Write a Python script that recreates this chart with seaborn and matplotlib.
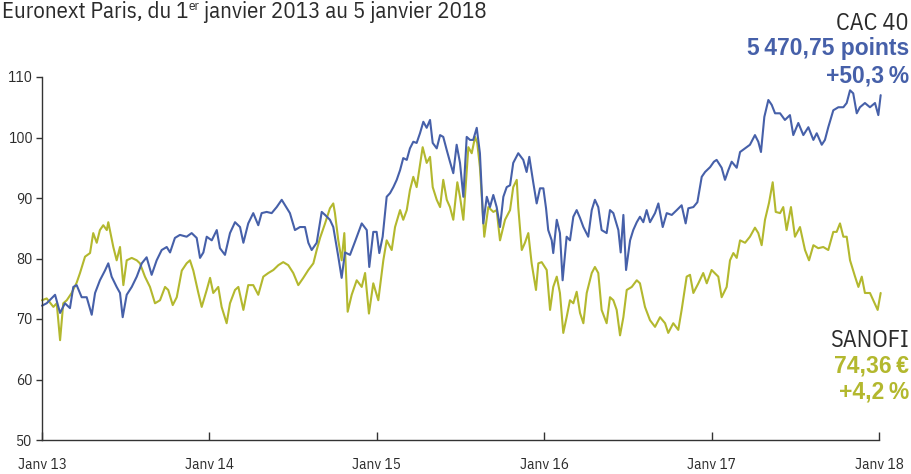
import matplotlib
matplotlib.use("Agg")
import matplotlib.pyplot as plt
import seaborn as sns
import numpy as np
import pandas as pd

# ---------------- data (years since 1 Jan 2013, base-100 style index) ----------------
cac_t = [0.000, 0.028, 0.078, 0.108, 0.137, 0.167, 0.187, 0.207, 0.237, 0.267, 0.297, 0.317,
         0.346, 0.376, 0.396, 0.416, 0.446, 0.466, 0.482, 0.506, 0.536, 0.566, 0.596, 0.625,
         0.655, 0.685, 0.715, 0.745, 0.765, 0.794, 0.824, 0.864, 0.894, 0.924, 0.944, 0.964,
         0.984, 1.014, 1.044, 1.063, 1.093, 1.123, 1.153, 1.183, 1.203, 1.232, 1.262, 1.292,
         1.312, 1.342, 1.372, 1.402, 1.432, 1.452, 1.481, 1.511, 1.541, 1.571, 1.591, 1.611,
         1.641, 1.671, 1.691, 1.720, 1.740, 1.770, 1.790, 1.810, 1.840, 1.870, 1.910, 1.940,
         1.955, 1.979, 1.999, 2.015, 2.035, 2.059, 2.079, 2.099, 2.119, 2.139, 2.158, 2.179,
         2.198, 2.218, 2.238, 2.258, 2.278, 2.298, 2.318, 2.334, 2.358, 2.378, 2.397, 2.418,
         2.437, 2.457, 2.477, 2.497, 2.517, 2.537, 2.557, 2.576, 2.597, 2.616, 2.636, 2.657,
         2.676, 2.696, 2.716, 2.736, 2.756, 2.776, 2.796, 2.815, 2.845, 2.875, 2.895, 2.911,
         2.935, 2.955, 2.975, 2.995, 3.011, 3.024, 3.045, 3.054, 3.075, 3.094, 3.110, 3.134,
         3.154, 3.174, 3.194, 3.214, 3.234, 3.263, 3.284, 3.303, 3.323, 3.343, 3.373, 3.393,
         3.413, 3.443, 3.457, 3.473, 3.489, 3.513, 3.532, 3.553, 3.572, 3.592, 3.612, 3.632,
         3.662, 3.682, 3.708, 3.732, 3.762, 3.792, 3.821, 3.845, 3.861, 3.891, 3.915, 3.941,
         3.961, 3.991, 4.014, 4.030, 4.060, 4.080, 4.100, 4.120, 4.150, 4.170, 4.200, 4.229,
         4.259, 4.279, 4.295, 4.315, 4.339, 4.359, 4.379, 4.409, 4.438, 4.468, 4.488, 4.518,
         4.548, 4.578, 4.608, 4.628, 4.658, 4.677, 4.697, 4.727, 4.757, 4.787, 4.807, 4.827,
         4.846, 4.867, 4.886, 4.916, 4.946, 4.976, 4.996, 5.010]
cac_v = [72.2, 72.6, 74.0, 71.0, 72.6, 71.8, 75.3, 75.6, 73.6, 73.6, 70.7, 74.3,
         76.4, 78.0, 79.2, 77.0, 75.3, 74.3, 70.3, 74.0, 75.3, 77.0, 79.2, 80.2,
         77.3, 79.7, 81.4, 81.9, 81.0, 83.4, 83.9, 83.6, 84.2, 83.4, 80.1, 81.0,
         83.6, 83.0, 84.7, 81.7, 80.6, 84.2, 86.0, 85.2, 82.6, 85.8, 87.5, 85.5,
         87.5, 87.7, 87.5, 88.5, 89.7, 88.8, 87.5, 84.7, 85.2, 85.2, 82.6, 81.4,
         82.6, 87.7, 87.2, 86.4, 85.2, 80.3, 76.8, 81.0, 80.6, 82.8, 85.8, 84.7,
         78.6, 84.4, 84.4, 80.9, 83.6, 90.2, 90.8, 91.8, 93.0, 94.6, 96.6, 96.3,
         98.2, 99.3, 99.1, 100.7, 102.6, 101.6, 102.9, 99.1, 98.2, 100.4, 100.1, 97.9,
         96.0, 94.1, 98.8, 95.8, 90.2, 100.1, 99.6, 99.6, 101.6, 97.4, 85.8, 90.2,
         88.5, 90.5, 88.5, 85.2, 90.2, 91.8, 92.1, 95.8, 97.4, 96.3, 94.3, 96.8,
         92.5, 89.1, 91.6, 91.6, 88.3, 84.7, 83.0, 80.9, 86.4, 84.2, 76.4, 83.6,
         83.0, 86.9, 88.0, 86.7, 85.2, 83.6, 88.0, 89.7, 88.5, 84.7, 84.2, 88.0,
         87.5, 84.7, 81.0, 87.2, 78.1, 83.0, 84.7, 86.0, 86.9, 86.0, 88.0, 86.0,
         87.5, 89.1, 85.2, 87.5, 87.2, 88.0, 88.8, 85.8, 88.3, 88.5, 89.3, 93.5,
         94.3, 95.1, 96.0, 96.3, 95.0, 93.0, 94.6, 96.0, 95.0, 97.6, 98.2, 98.8,
         100.4, 99.3, 97.6, 103.4, 106.2, 105.4, 104.0, 104.0, 102.9, 103.7, 100.4, 102.4,
         100.4, 101.7, 99.6, 100.7, 98.8, 99.6, 101.7, 104.5, 105.0, 105.0, 105.7, 107.8,
         107.3, 104.0, 105.0, 105.7, 105.0, 105.7, 103.7, 107.0]

san_t = [0.000, 0.028, 0.068, 0.088, 0.108, 0.127, 0.148, 0.177, 0.207, 0.227, 0.257, 0.287,
         0.306, 0.327, 0.346, 0.366, 0.387, 0.396, 0.426, 0.446, 0.466, 0.486, 0.506, 0.536,
         0.566, 0.585, 0.615, 0.645, 0.675, 0.705, 0.735, 0.754, 0.781, 0.805, 0.835, 0.864,
         0.884, 0.904, 0.934, 0.954, 0.984, 1.004, 1.023, 1.053, 1.073, 1.103, 1.123, 1.153,
         1.173, 1.203, 1.232, 1.262, 1.292, 1.322, 1.352, 1.382, 1.412, 1.441, 1.471, 1.501,
         1.531, 1.561, 1.591, 1.621, 1.641, 1.661, 1.691, 1.720, 1.740, 1.750, 1.770, 1.790,
         1.806, 1.826, 1.850, 1.880, 1.910, 1.930, 1.953, 1.979, 2.009, 2.039, 2.059, 2.089,
         2.109, 2.139, 2.158, 2.179, 2.198, 2.218, 2.238, 2.258, 2.274, 2.298, 2.318, 2.334,
         2.358, 2.378, 2.397, 2.418, 2.437, 2.457, 2.481, 2.497, 2.517, 2.547, 2.567, 2.587,
         2.600, 2.616, 2.642, 2.666, 2.696, 2.716, 2.736, 2.766, 2.796, 2.815, 2.836, 2.845,
         2.866, 2.885, 2.905, 2.925, 2.951, 2.965, 2.985, 3.015, 3.035, 3.054, 3.075, 3.094,
         3.114, 3.134, 3.154, 3.174, 3.194, 3.214, 3.234, 3.254, 3.284, 3.303, 3.323, 3.343,
         3.373, 3.393, 3.413, 3.433, 3.453, 3.473, 3.493, 3.523, 3.553, 3.572, 3.602, 3.632,
         3.662, 3.692, 3.722, 3.741, 3.771, 3.801, 3.821, 3.851, 3.871, 3.891, 3.921, 3.950,
         3.971, 4.000, 4.040, 4.060, 4.090, 4.110, 4.130, 4.150, 4.170, 4.200, 4.229, 4.259,
         4.279, 4.299, 4.319, 4.343, 4.365, 4.383, 4.409, 4.428, 4.448, 4.474, 4.498, 4.528,
         4.558, 4.582, 4.608, 4.637, 4.667, 4.697, 4.727, 4.747, 4.767, 4.787, 4.807, 4.827,
         4.857, 4.877, 4.897, 4.916, 4.946, 4.966, 4.992, 5.010]
san_v = [73.1, 73.4, 72.0, 72.6, 66.5, 72.6, 73.1, 74.3, 76.0, 77.6, 80.3, 80.9,
         84.2, 82.6, 84.7, 85.5, 84.7, 86.0, 81.9, 79.7, 81.9, 75.6, 79.7, 80.1,
         79.7, 79.2, 77.0, 75.3, 72.6, 73.1, 75.3, 74.8, 72.3, 73.6, 78.0, 79.2,
         79.7, 78.0, 74.3, 72.0, 74.8, 76.8, 74.3, 75.3, 72.0, 69.3, 72.6, 74.8,
         75.3, 71.5, 75.6, 75.6, 74.0, 77.0, 77.6, 78.1, 78.9, 79.4, 78.9, 77.6,
         75.6, 76.8, 78.1, 79.2, 81.4, 83.4, 85.8, 88.3, 89.1, 87.5, 83.0, 79.7,
         84.2, 71.2, 74.0, 76.4, 75.3, 77.6, 70.9, 75.9, 73.1, 79.7, 83.0, 81.4,
         85.2, 88.0, 86.4, 88.0, 91.3, 93.5, 91.8, 95.5, 98.4, 95.8, 96.8, 91.8,
         89.7, 88.5, 93.0, 89.7, 88.5, 86.4, 92.6, 90.2, 86.4, 98.4, 97.4, 100.1,
         99.1, 95.1, 83.6, 88.5, 87.7, 88.0, 83.0, 86.4, 88.0, 91.8, 93.0, 88.5,
         81.4, 82.6, 84.2, 79.2, 74.8, 79.2, 79.4, 78.1, 71.5, 75.3, 77.0, 74.3,
         67.7, 70.3, 73.1, 72.6, 74.5, 71.0, 69.3, 74.3, 77.6, 78.6, 77.6, 71.5,
         69.3, 73.6, 73.1, 71.5, 67.3, 70.3, 74.8, 75.3, 76.4, 75.9, 72.0, 69.8,
         68.7, 70.3, 69.3, 67.7, 69.3, 68.2, 71.5, 77.0, 77.3, 74.3, 75.9, 77.6,
         75.9, 78.1, 77.0, 73.6, 75.3, 79.7, 80.9, 80.1, 83.0, 82.6, 83.6, 85.1,
         84.2, 82.2, 86.4, 89.2, 92.6, 87.7, 87.5, 88.5, 84.7, 88.5, 83.6, 85.2,
         81.4, 79.7, 82.2, 81.7, 81.9, 81.4, 84.4, 84.4, 85.8, 83.6, 83.6, 79.7,
         77.0, 75.3, 77.0, 74.3, 74.3, 73.1, 71.5, 74.3]

series_names = ["SANOFI", "CAC 40"]
x_tick_years = [2013, 2014, 2015, 2016, 2017, 2018]
x_tick_labels = ["Janv 13", "Janv 14", "Janv 15", "Janv 16", "Janv 17", "Janv 18"]
y_ticks = [50, 60, 70, 80, 90, 100, 110]

title_parts = ["Euronext Paris, du 1", "er", " janvier 2013 au 5 janvier 2018"]
cac_lines = ["CAC 40", "5\u2009470,75 points", "+50,3\u2009%"]
san_lines = ["SANOFI", "74,36\u2009€", "+4,2\u2009%"]

# ---------------- styling ----------------
BLUE = "#4660A9"
GREEN = "#B3B82E"
DARK = "#2b2b2b"

sns.set_theme(style="white")
COND = ["IBM Plex Sans Condensed", "Liberation Sans", "DejaVu Sans"]
BOLD = ["Liberation Sans", "DejaVu Sans"]
plt.rcParams["font.family"] = COND

df = pd.concat([
    pd.DataFrame({"year": 2013 + np.array(san_t), "value": san_v, "serie": "SANOFI"}),
    pd.DataFrame({"year": 2013 + np.array(cac_t), "value": cac_v, "serie": "CAC 40"}),
], ignore_index=True)

fig = plt.figure(figsize=(9.12, 4.74), dpi=100)
ax = fig.add_axes([42 / 912, 1 - 440 / 474, (879 - 42) / 912, (440 - 77) / 474])

sns.lineplot(data=df, x="year", y="value", hue="serie", hue_order=series_names,
             palette={"SANOFI": GREEN, "CAC 40": BLUE}, estimator=None, sort=False,
             linewidth=1.5, legend=False, ax=ax)

ax.set_xlim(2013, 2018)
ax.set_ylim(50, 110)
ax.set_xticks(x_tick_years)
ax.set_xticklabels(x_tick_labels)
ax.set_yticks(y_ticks)
ax.set_xlabel("")
ax.set_ylabel("")
for s in ["top", "right"]:
    ax.spines[s].set_visible(False)
for s in ["left", "bottom"]:
    ax.spines[s].set_color("#333333")
    ax.spines[s].set_linewidth(1.0)
ax.tick_params(axis="y", direction="out", length=4, width=1, color="#333333",
               labelsize=11, labelcolor=DARK, pad=3, left=True)
ax.tick_params(axis="x", direction="in", length=6, width=1, color="#333333",
               labelsize=11, labelcolor=DARK, pad=13, bottom=True)
for lab in ax.get_xticklabels() + ax.get_yticklabels():
    lab.set_family(COND)
for line in ax.lines:
    line.set_clip_on(False)

# ---------------- title ----------------
fig.canvas.draw()
r = fig.canvas.get_renderer()
W, H = fig.bbox.width, fig.bbox.height
yb = 1 - 18 / H
xcur = 2 / W
sizes = [16.5, 9.5, 16.5]
raises = [0, 8 / H, 0]
for part, fsz, dy in zip(title_parts, sizes, raises):
    t = fig.text(xcur, yb + dy, part, fontsize=fsz, color=DARK, va="baseline", ha="left",
                 family=COND)
    bb = t.get_window_extent(r)
    xcur = bb.x1 / W

# ---------------- right annotations ----------------
xr = 909 / W
fig.text(xr, 1 - 30 / H, cac_lines[0], ha="right", va="baseline", fontsize=17.5,
         color=DARK, family=COND)
fig.text(xr, 1 - 55 / H, cac_lines[1], ha="right", va="baseline", fontsize=16.5,
         color=BLUE, fontweight="bold", family=BOLD)
fig.text(xr, 1 - 83 / H, cac_lines[2], ha="right", va="baseline", fontsize=16.5,
         color=BLUE, fontweight="bold", family=BOLD)
fig.text(xr, 1 - 347 / H, san_lines[0], ha="right", va="baseline", fontsize=17.5,
         color=DARK, family=COND)
fig.text(xr, 1 - 372 / H, san_lines[1], ha="right", va="baseline", fontsize=16.5,
         color=GREEN, fontweight="bold", family=BOLD)
fig.text(xr, 1 - 399 / H, san_lines[2], ha="right", va="baseline", fontsize=16.5,
         color=GREEN, fontweight="bold", family=BOLD)

fig.savefig("out.png", dpi=100, facecolor="white")
